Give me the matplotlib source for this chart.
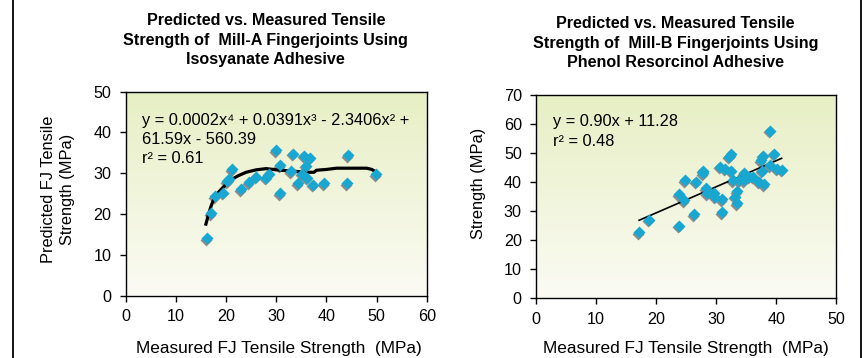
import numpy as np
import matplotlib
matplotlib.use('Agg')
import matplotlib.pyplot as plt
import matplotlib.transforms as mtransforms
from matplotlib.colors import LinearSegmentedColormap

plt.rcParams['font.family'] = ['Liberation Sans', 'DejaVu Sans']

# ---- Mill-A (isocyanate) : measured vs predicted
millA_measured = [16.3, 17.0, 17.8, 19.4, 20.2, 20.6, 21.2, 22.9, 24.5, 26.0, 27.9, 28.6,
                  30.0, 30.8, 30.8, 33.3, 32.9, 34.4, 35.1, 35.5, 36.7, 35.9, 36.1, 37.4,
                  39.5, 44.0, 44.2, 49.9]
millA_predicted = [14.0, 20.2, 24.3, 25.2, 28.0, 28.5, 30.9, 26.0, 27.8, 29.1, 28.9, 29.9,
                   35.6, 31.9, 25.1, 34.8, 30.5, 27.5, 29.9, 34.2, 33.8, 31.8, 28.9, 27.2,
                   27.5, 27.5, 34.4, 29.7]
# polynomial trendline as drawn
millA_trend_x = [16.0, 16.5, 17.0, 17.5, 18.5, 19.5, 20.5, 21.5, 22.5, 24.0, 26.0, 28.0,
                 30.0, 32.0, 34.0, 36.0, 37.5, 38.0, 40.0, 42.0, 44.0, 46.0, 48.0, 49.0, 50.0]
millA_trend_y = [17.5, 19.8, 21.8, 23.4, 25.3, 26.6, 27.8, 28.7, 29.4, 30.2, 30.8, 31.1,
                 30.8, 30.6, 30.4, 30.2, 30.2, 30.7, 30.9, 31.2, 31.2, 31.2, 31.2, 30.9, 30.2]
millA_eq = 'y = 0.0002x\u2074 + 0.0391x\u00b3 - 2.3406x\u00b2 +\n61.59x - 560.39\nr\u00b2 = 0.61'

# ---- Mill-B (phenol resorcinol)
millB_measured = [17.2, 18.8, 23.8, 23.8, 24.6, 24.9, 26.4, 26.7, 27.8, 27.9, 28.3, 28.5,
                  29.6, 29.9, 30.7, 31.0, 31.0, 31.5, 32.1, 32.5, 32.5, 32.9, 33.2, 33.4,
                  33.5, 33.8, 34.6, 34.6, 35.4, 36.2, 37.1, 37.4, 37.6, 37.8, 37.9, 39.0,
                  38.9, 39.6, 40.1, 40.9]
millB_strength = [22.6, 26.9, 24.9, 35.7, 33.7, 40.6, 28.8, 40.0, 42.9, 43.9, 37.8, 36.0,
                  36.3, 34.8, 45.2, 34.0, 29.5, 44.5, 48.6, 49.5, 43.9, 40.6, 34.9, 36.7,
                  32.6, 40.6, 42.9, 40.6, 41.8, 41.8, 40.0, 47.5, 43.9, 48.9, 39.1, 57.6,
                  45.7, 49.6, 44.5, 44.1]
millB_slope, millB_intercept = 0.90, 11.28
millB_eq = 'y = 0.90x + 11.28\nr\u00b2 = 0.48'

xlabel = 'Measured FJ Tensile Strength  (MPa)'
marker_col = '#17A7D1'
shadow_col = '#8C8C8C'

fig = plt.figure(figsize=(8.64, 3.58), dpi=100)
W, H = 864.0, 358.0


def gradient_bg(ax):
    grad = np.linspace(0, 1, 256).reshape(-1, 1)
    cm = LinearSegmentedColormap.from_list('bg', ['#FBFBF4', '#E7EFC4'])
    ax.imshow(grad, aspect='auto', cmap=cm, origin='lower',
              extent=[0, 1, 0, 1], transform=ax.transAxes, zorder=0)


def scatter_shadow(ax, x, y):
    sh = mtransforms.offset_copy(ax.transData, fig=fig, x=-1.0, y=-1.5, units='dots')
    ax.plot(x, y, 'D', ms=5.8, color=shadow_col, mec='none', transform=sh, zorder=2)
    ax.plot(x, y, 'D', ms=5.8, color=marker_col, mec='none', zorder=3)


def style_axes(ax):
    for s in ax.spines.values():
        s.set_linewidth(1.0)
        s.set_color('black')
    ax.tick_params(direction='out', length=4, width=1.0, labelsize=11.6, pad=6)


# left panel
ax1 = fig.add_axes([125.5 / W, 1 - 295.5 / H, 301.5 / W, 204 / H])
gradient_bg(ax1)
ax1.plot(millA_trend_x, millA_trend_y, color='black', lw=2.3, zorder=2.5)
scatter_shadow(ax1, millA_measured, millA_predicted)
ax1.set_xlim(0, 60)
ax1.set_ylim(0, 50)
ax1.set_xticks(np.arange(0, 61, 10))
ax1.set_yticks(np.arange(0, 51, 10))
style_axes(ax1)
ax1.text(0.056, 0.893, millA_eq, transform=ax1.transAxes, fontsize=11.8,
         va='top', ha='left', linespacing=1.32)

# right panel
ax2 = fig.add_axes([535.7 / W, 1 - 298 / H, 300.6 / W, 203.3 / H])
gradient_bg(ax2)
lx = np.array([min(millB_measured), max(millB_measured)])
ax2.plot(lx, millB_slope * lx + millB_intercept, color='black', lw=1.2, zorder=2.5)
scatter_shadow(ax2, millB_measured, millB_strength)
ax2.set_xlim(0, 50)
ax2.set_ylim(0, 70)
ax2.set_xticks(np.arange(0, 51, 10))
ax2.set_yticks(np.arange(0, 71, 10))
style_axes(ax2)
ax2.text(0.058, 0.905, millB_eq, transform=ax2.transAxes, fontsize=11.8,
         va='top', ha='left', linespacing=1.38)

# titles
fig.text(265.8 / W, 1 - 40.3 / H,
         'Predicted vs. Measured Tensile\nStrength of  Mill-A Fingerjoints Using\nIsosyanate Adhesive',
         ha='center', va='center', fontsize=11.6, fontweight='bold', linespacing=1.36)
fig.text(675.3 / W, 1 - 43.3 / H,
         'Predicted vs. Measured Tensile\nStrength of  Mill-B Fingerjoints Using\nPhenol Resorcinol Adhesive',
         ha='center', va='center', fontsize=11.6, fontweight='bold', linespacing=1.36)

# axis labels
fig.text(279.2 / W, 1 - 348.3 / H, xlabel, ha='center', va='center', fontsize=12.4)
fig.text(686 / W, 1 - 348.3 / H, xlabel, ha='center', va='center', fontsize=12.4)
fig.text(58.3 / W, 1 - 189 / H, 'Predicted FJ Tensile\nStrength (MPa)', rotation=90,
         ha='center', va='center', fontsize=11.8, linespacing=1.35)
fig.text(478.7 / W, 1 - 183.3 / H, 'Strength (MPa)', rotation=90,
         ha='center', va='center', fontsize=11.8)

# page frame lines
fig.add_artist(plt.Line2D([12.5 / W, 12.5 / W], [0, 1], color='black', lw=1.3))
fig.add_artist(plt.Line2D([860.5 / W, 860.5 / W], [0, 1], color='black', lw=1.3))

plt.savefig('out.png', dpi=100)
